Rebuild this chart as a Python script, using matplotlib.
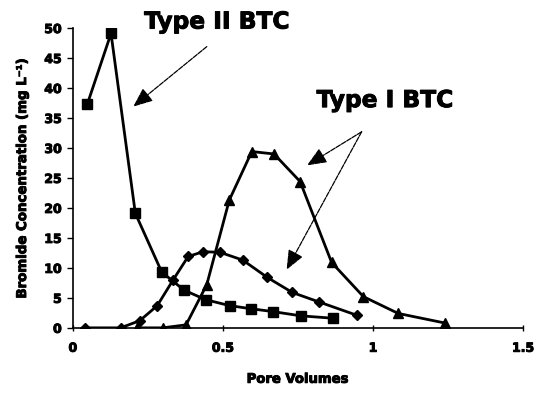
import matplotlib
matplotlib.use("Agg")
import matplotlib.pyplot as plt
import matplotlib.patheffects as pe

plt.rcParams["font.family"] = ["DejaVu Sans"]
plt.rcParams["font.weight"] = "bold"

# Type II BTC (squares)
pv_sq = [0.048, 0.127, 0.208, 0.296, 0.37, 0.442, 0.523, 0.592, 0.668, 0.76, 0.868]
br_sq = [37.3, 49.1, 19.1, 9.3, 6.3, 4.7, 3.7, 3.2, 2.7, 2.0, 1.6]

# Type I BTC (diamonds)
pv_di = [0.04, 0.159, 0.223, 0.281, 0.334, 0.384, 0.434, 0.49, 0.566, 0.648, 0.731, 0.821, 0.946]
br_di = [0.0, 0.0, 1.2, 3.7, 8.0, 11.9, 12.7, 12.6, 11.3, 8.4, 5.9, 4.3, 2.1]

# Type I BTC (triangles)
pv_tr = [0.212, 0.299, 0.377, 0.446, 0.521, 0.596, 0.67, 0.757, 0.862, 0.968, 1.084, 1.24]
br_tr = [0.0, 0.0, 0.5, 7.2, 21.3, 29.4, 29.0, 24.4, 10.9, 5.2, 2.4, 0.8]

heavy = [pe.withStroke(linewidth=0.7, foreground="black")]

fig = plt.figure(figsize=(5.36, 3.95), dpi=100)
ax = fig.add_axes([0.136, 0.170, 0.840, 0.759])

ax.plot(pv_tr, br_tr, "-^", color="black", lw=2, ms=7, zorder=3)
ax.plot(pv_di, br_di, "-D", color="black", lw=2, ms=5.5, zorder=3)
ax.plot(pv_sq, br_sq, "-s", color="black", lw=2, ms=7.5, zorder=4)

ax.set_xlim(0, 1.5)
ax.set_ylim(0, 50)
ax.set_xticks([0, 0.5, 1, 1.5])
ax.set_xticklabels(["0", "0.5", "1", "1.5"])
ax.set_yticks(range(0, 51, 5))
ax.tick_params(axis="both", labelsize=9, width=1, length=4, color="black")
ax.tick_params(axis="x", direction="inout", pad=8)
ax.tick_params(axis="y", direction="out", pad=4)
for lab in ax.get_xticklabels() + ax.get_yticklabels():
    lab.set_path_effects(heavy)
for s in ("top", "right"):
    ax.spines[s].set_visible(False)
for s in ("left", "bottom"):
    ax.spines[s].set_linewidth(1.2)

ax.set_xlabel("Pore Volumes", fontsize=9.5, fontweight="bold", labelpad=13,
              path_effects=heavy)
ax.set_ylabel("Bromide Concentration (mg L⁻¹)", fontsize=9.6, fontweight="bold",
              labelpad=11, path_effects=heavy)

arrow = dict(arrowstyle="-|>,head_length=1.2,head_width=0.5", color="black",
             lw=0.9, ls=(0, (4, 1)), shrinkA=0, shrinkB=0)
ax.text(0.48, 51, "Type II BTC", fontsize=16.8, fontweight="bold",
        ha="center", va="center", clip_on=False, path_effects=heavy)
ax.annotate("", xy=(0.201, 36.9), xytext=(0.446, 46.9), arrowprops=arrow)

ax.text(1.04, 37.9, "Type I BTC", fontsize=16.8, fontweight="bold",
        ha="center", va="center", path_effects=heavy)
ax.annotate("", xy=(0.78, 27.1), xytext=(0.962, 32.7), arrowprops=arrow)
ax.annotate("", xy=(0.712, 9.7), xytext=(0.962, 32.7), arrowprops=arrow)

fig.savefig("out.png", dpi=100)
